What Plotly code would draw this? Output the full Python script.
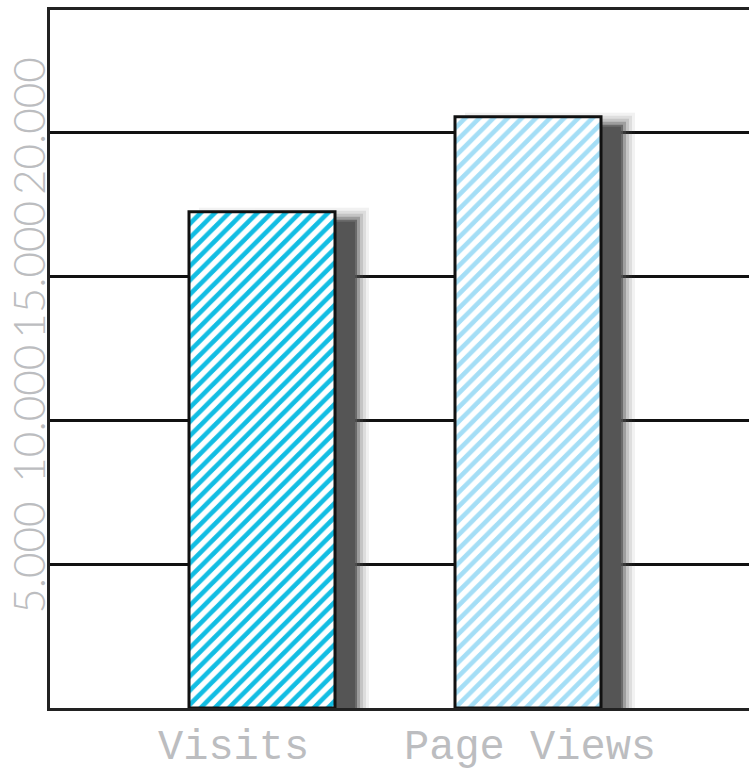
import plotly.graph_objects as go

categories = ["Visits", "Page Views"]
values = [17250, 20550]
bar_colors = ["#12BDE3", "#A4DEF6"]
y_tickvals = [5000, 10000, 15000, 20000]
y_ticktext = ["5.000", "10.000", "15.000", "20.000"]
label_shift = [-29, 2]

# geometry helpers (pixel -> data units)
PX_X = 266.0          # pixels per category step
PX_Y = 698.0 / 24264  # pixels per value unit
bar_w = 146 / PX_X
main_off = -bar_w / 2

fig = go.Figure()

# soft blurred shadow layers
shadow_dx = 22 / PX_X
shadow_dy = 8 / PX_Y
for grow, op in [(12, 0.08), (9, 0.12), (6, 0.18), (3, 0.35), (0, 0.7), (-2, 1.0)]:
    g = grow / PX_X
    fig.add_trace(go.Bar(
        x=categories, y=[v + 2 * grow / PX_Y for v in values],
        base=-shadow_dy - grow / PX_Y,
        width=bar_w + 2 * g, offset=main_off + shadow_dx - g,
        marker=dict(color="#555555", line=dict(width=0)),
        opacity=op, hoverinfo="skip", showlegend=False,
    ))

# opaque white underlay so the hatch gaps are white
fig.add_trace(go.Bar(
    x=categories, y=values, width=bar_w, offset=main_off,
    marker=dict(color="white", line=dict(width=0)),
    hoverinfo="skip", showlegend=False,
))

# main bars with scribble-like hatch
fig.add_trace(go.Bar(
    x=categories, y=values,
    width=bar_w, offset=main_off,
    marker=dict(
        color=bar_colors,
        line=dict(color="#111111", width=3),
        pattern=dict(shape="/", fgcolor="white", bgcolor=bar_colors,
                     fillmode="replace", size=10, solidity=0.46),
    ),
    showlegend=False,
))

for cat, dx in zip(categories, label_shift):
    fig.add_annotation(
        x=cat, y=0, yref="y", yanchor="top", yshift=-14, xshift=dx,
        text=cat, showarrow=False,
        font=dict(family="Liberation Mono", size=42, color="#BCBDC0"),
    )

fig.update_layout(
    width=749, height=775,
    margin=dict(l=50, r=0, t=10, b=67),
    paper_bgcolor="white", plot_bgcolor="white",
    barmode="overlay",
    xaxis=dict(
        type="category", automargin=False,
        range=[-212 / PX_X, 1 + 221 / PX_X],
        showline=True, linecolor="#222222", linewidth=3, mirror=True,
        showgrid=False, ticks="", showticklabels=False,
    ),
    yaxis=dict(
        range=[0, 24264], automargin=False,
        showline=True, linecolor="#222222", linewidth=3, mirror=False,
        showgrid=True, gridcolor="#111111", gridwidth=2.5,
        zeroline=False, ticks="",
        tickvals=y_tickvals, ticktext=y_ticktext, tickangle=-90,
        tickfont=dict(family="Lato", size=44, color="#BCBDC0", weight=300),
        ticklabelstandoff=-16,
    ),
)

fig.write_html("out.html")
